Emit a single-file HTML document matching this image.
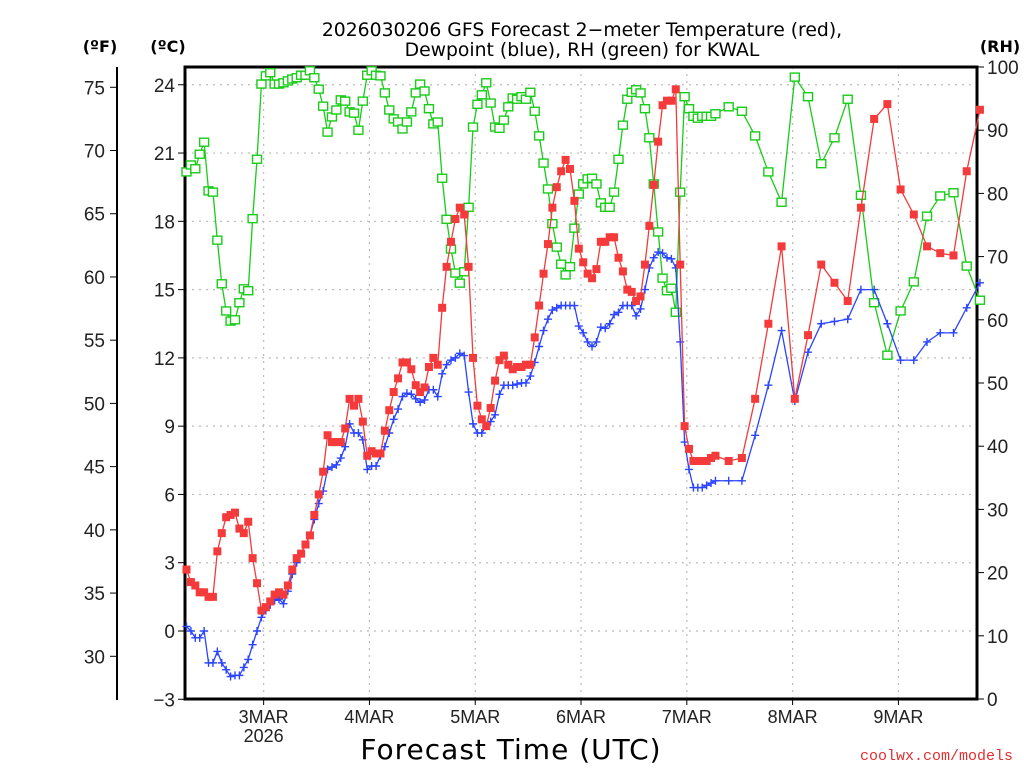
<!DOCTYPE html>
<html><head><meta charset="utf-8"><style>
html,body{margin:0;padding:0;background:#fff;}
svg{display:block;font-family:"DejaVu Sans","Liberation Sans",sans-serif;}
</style></head><body>
<svg id="chart" width="1024" height="768" xmlns="http://www.w3.org/2000/svg">
<rect width="1024" height="768" fill="#fff"/>
<text x="582" y="36" font-size="18.8" text-anchor="middle" fill="#000">2026030206 GFS Forecast 2−meter Temperature (red),</text>
<text x="582" y="56" font-size="18.8" text-anchor="middle" fill="#000">Dewpoint (blue), RH (green) for KWAL</text>
<text x="100" y="52" font-size="16" font-weight="bold" text-anchor="middle">(ºF)</text>
<text x="168" y="52" font-size="16" font-weight="bold" text-anchor="middle">(ºC)</text>
<text x="1000" y="52" font-size="16" font-weight="bold" text-anchor="middle">(RH)</text>
<text x="511" y="759" font-size="28" text-anchor="middle" letter-spacing="1">Forecast Time (UTC)</text>
<text x="1013" y="760" font-size="15" text-anchor="end" fill="#e03030" font-family="Liberation Mono, monospace">coolwx.com/models</text>
<g id="grid"></g><g id="axes"></g><g id="series"></g>
</svg>
<script>
const hours=[];for(let h=0;h<=120;h++)hours.push(h);for(let h=123;h<=180;h+=3)hours.push(h);
const tempC=[2.7,2.15,2.0,1.7,1.7,1.5,1.5,3.5,4.3,5.0,5.1,5.2,4.5,4.3,4.8,3.2,2.1,0.9,1.05,1.3,1.6,1.7,1.6,2.0,2.7,3.2,3.4,3.8,4.2,5.1,6.0,7.0,8.6,8.3,8.3,8.3,8.9,10.2,9.9,10.2,9.2,7.7,7.9,7.8,7.8,8.8,9.7,10.5,11.1,11.8,11.8,11.5,10.8,10.5,10.7,11.6,12.0,11.7,14.2,16.0,17.1,18.1,18.6,18.3,16.0,12.0,9.9,9.3,9.0,9.8,11.0,11.9,12.1,11.7,11.5,11.6,11.6,11.7,11.7,12.9,14.3,15.7,17.0,18.6,19.5,20.2,20.7,20.3,18.9,16.8,16.2,15.7,15.5,15.9,17.1,17.1,17.3,17.3,16.4,15.8,15.0,14.9,14.5,14.7,16.1,17.8,19.6,21.5,23.1,23.3,23.3,23.8,16.1,9.0,8.0,7.47,7.47,7.47,7.47,7.6,7.7,7.47,7.6,10.2,13.5,16.9,10.2,13.0,16.1,15.3,14.5,18.6,22.5,23.15,19.4,18.3,16.9,16.6,16.5,20.2,22.9];
const dewC=[0.2,0,-0.3,-0.3,0,-1.4,-1.4,-0.9,-1.4,-1.7,-2.0,-1.95,-1.95,-1.6,-1.25,-0.6,0,0.6,0.9,1.15,1.35,1.4,1.2,1.75,2.5,3.0,3.4,3.8,4.2,4.9,5.6,6.15,7.1,7.2,7.3,7.6,8.1,9.1,8.7,8.7,8.4,7.1,7.25,7.25,7.7,8.1,8.7,9.3,9.75,10.3,10.45,10.4,10.2,10.05,10.15,10.6,10.6,10.3,11.3,11.7,11.9,12.0,12.2,12.1,10.5,9.1,8.7,8.7,9.0,9.2,9.5,10.4,10.8,10.8,10.8,10.85,10.9,10.9,11.2,11.8,12.5,13.2,13.7,14.1,14.2,14.3,14.3,14.3,14.3,13.4,13.1,12.7,12.5,12.7,13.35,13.3,13.5,13.9,14.0,14.3,14.3,14.3,13.85,14.15,15.0,15.95,16.4,16.65,16.6,16.4,16.35,15.95,12.7,8.3,7.1,6.3,6.3,6.3,6.4,6.5,6.6,6.6,6.6,8.6,10.8,13.2,10.1,12.25,13.5,13.6,13.7,15.0,15.0,13.5,11.9,11.9,12.7,13.1,13.1,14.2,15.3];
const rh=[83.4,84.5,83.9,86.2,88.1,80.4,80.2,72.6,65.7,61.4,59.8,60.0,62.7,64.9,64.6,76.0,85.4,97.3,98.6,99.1,97.3,97.3,97.5,97.8,98.1,98.3,98.7,98.7,99.4,98.3,96.5,93.8,89.7,92.1,93.2,94.8,94.6,92.9,92.7,90.0,94.6,98.7,99.4,98.7,98.6,95.9,93.2,91.8,91.3,90.2,91.3,92.9,95.9,97.3,96.2,93.4,91.0,91.3,82.4,75.9,71.2,67.4,65.8,67.6,77.8,90.5,94.1,95.6,97.5,94.3,90.5,90.3,91.6,93.7,95.1,94.9,95.3,94.9,96.0,93.0,89.1,84.8,80.7,75.2,71.5,68.8,67.1,68.4,74.5,79.9,81.5,82.3,82.4,81.5,78.5,77.8,77.8,80.2,85.4,90.8,94.9,96.0,96.4,95.9,93.4,88.8,81.5,73.9,66.6,64.6,65.0,61.2,80.2,95.3,93.4,92.2,91.9,92.2,92.2,92.2,92.6,93.7,93.0,89.1,83.4,78.6,98.4,95.3,84.7,88.8,94.9,79.7,62.7,54.4,61.4,66.0,76.4,79.6,80.1,68.5,63.1];
const cTicks=[-3,0,3,6,9,12,15,18,21,24];
const fTicks=[30,35,40,45,50,55,60,65,70,75];
const rhTicks=[0,10,20,30,40,50,60,70,80,90,100];
const dayLabels=["3MAR","4MAR","5MAR","6MAR","7MAR","8MAR","9MAR"];
const dayHours=[17.5,41.5,65.5,89.5,113.5,137.5,161.5];

const L=185,R=977,T=67,B=699;
const xS=h=>186.5+h*4.408;
const yC=c=>631-c*22.76;
const yF=f=>yC((f-32)/1.8);
const yR=r=>B-r*(B-T)/100;
const NS="http://www.w3.org/2000/svg";
const TF='"Liberation Sans", sans-serif';
function mk(tag,attrs,parent,text){const e=document.createElementNS(NS,tag);for(const k in attrs)e.setAttribute(k,attrs[k]);if(text!=null)e.textContent=text;parent.appendChild(e);return e;}
const grid=document.getElementById('grid'),axes=document.getElementById('axes'),ser=document.getElementById('series');

cTicks.forEach(c=>{const y=yC(c);
 const g=mk('line',{x1:L,x2:R,y1:y,y2:y,stroke:'#bbb','stroke-dasharray':'2 5','stroke-width':1.2},grid);
 
 
 mk('line',{x1:L-7,x2:L,y1:y,y2:y,stroke:'#000'},axes);
 const t=mk('text',{x:L-10,y:y+7,'font-size':19,'text-anchor':'end',fill:'#222','font-family':TF},axes,c<0?'−'+Math.abs(c):String(c));
 
 
});
fTicks.forEach(f=>{const y=yF(f);
 mk('line',{x1:110,x2:117,y1:y,y2:y,stroke:'#000'},axes);
 const t=mk('text',{x:105,y:y+7,'font-size':19,'text-anchor':'end',fill:'#222','font-family':TF},axes,String(f));
 
 
});
rhTicks.forEach(r=>{const y=yR(r);
 mk('line',{x1:R,x2:R+7,y1:y,y2:y,stroke:'#000'},axes);
 const t=mk('text',{x:R+10,y:y+7,'font-size':19,'text-anchor':'start',fill:'#222','font-family':TF},axes,String(r));
 
 
});
dayHours.forEach((h,i)=>{const x=xS(h);
 const g=mk('line',{x1:x,x2:x,y1:T,y2:B,stroke:'#bbb','stroke-dasharray':'2 5','stroke-width':1.2},grid);
 
 
 mk('line',{x1:x,x2:x,y1:B,y2:B+6,stroke:'#000'},axes);
 const t=mk('text',{x:x,y:B+24,'font-size':18,'text-anchor':'middle',fill:'#222','font-family':TF},axes,dayLabels[i]);
 
 
});
const yr=mk('text',{x:xS(dayHours[0]),y:B+43,'font-size':18,'text-anchor':'middle',fill:'#222','font-family':TF},axes,'2026');


mk('line',{x1:117,x2:117,y1:T,y2:B+1,stroke:'#000','stroke-width':2},axes);
const fr=mk('rect',{x:L,y:T,width:R-L,height:B-T,fill:'none',stroke:'#000','stroke-width':3},axes);



function series(vals,yf,color,name,marker){
 const pts=vals.map((v,i)=>[xS(hours[i]),yf(v)]);
 const p=mk('polyline',{points:pts.map(p=>p.join(',')).join(' '),fill:'none',stroke:color,'stroke-width':1.3},ser);
 
 
 pts.forEach(([x,y])=>{let m;
  if(marker==='fill')m=mk('rect',{x:x-4,y:y-4,width:8,height:8,fill:color},ser);
  else if(marker==='open')m=mk('rect',{x:x-4.5,y:y-4,width:9,height:8,fill:'#fff',stroke:color,'stroke-width':1.4},ser);
  else{m=mk('path',{d:`M${x-4},${y}H${x+4}M${x},${y-4}V${y+4}`,stroke:color,'stroke-width':1.4},ser);}
  
  
 });
}
series(rh,yR,'#18cc18','rh','open');
series(dewC,yC,'#2a44ff','dewpoint','plus');
series(tempC,yC,'#f43a3a','temperature','fill');
</script>
</body></html>
